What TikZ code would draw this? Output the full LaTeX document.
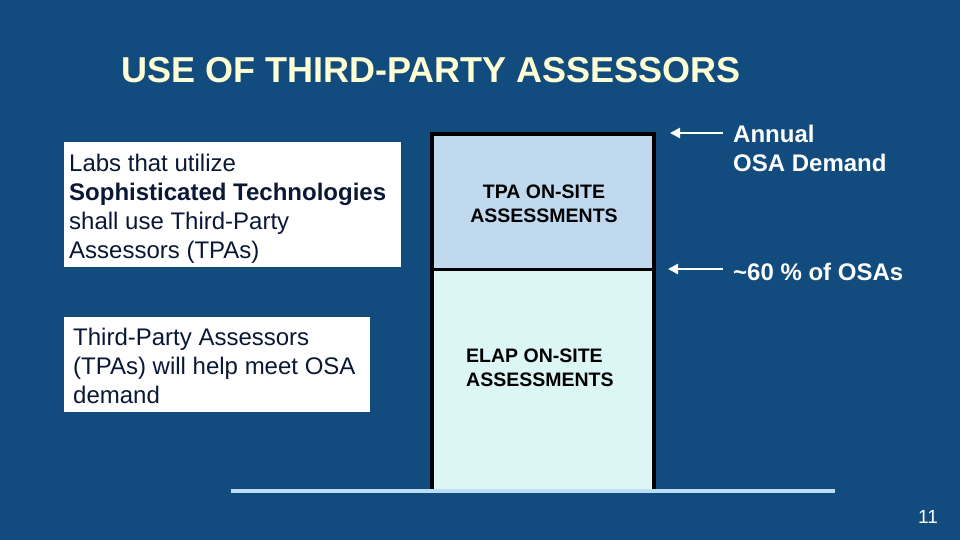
\documentclass[tikz,border=0pt]{standalone}
\usepackage{fontspec}
\setmainfont{Liberation Sans}
\usetikzlibrary{arrows.meta}
\definecolor{bg}{HTML}{124B7D}
\definecolor{titlec}{HTML}{FFFFD4}
\definecolor{navytext}{HTML}{0A1836}
\definecolor{upperfill}{HTML}{C0D9EF}
\definecolor{lowerfill}{HTML}{DCF5F5}
\definecolor{basec}{HTML}{BCDDF6}
\tikzset{
  infobox/.style={fill=white, draw=none},
  infotext/.style={anchor=north west, inner sep=0pt, align=left, text=navytext, font=\fontsize{24pt}{29pt}\selectfont},
  bartext/.style={inner sep=0pt, text=black, font=\bfseries\fontsize{19.5pt}{24pt}\selectfont},
  sidetext/.style={anchor=north west, inner sep=0pt, align=left, text=white, font=\bfseries\fontsize{24pt}{29pt}\selectfont},
  whitearrow/.style={draw=white, line width=2.5pt, -{Triangle[length=10pt,width=10pt]}},
}
\begin{document}
\begin{tikzpicture}[x=1pt,y=-1pt]
\useasboundingbox (0,0) rectangle (960,540);
\fill[bg] (0,0) rectangle (960,540);
% title
\node[anchor=north west, inner sep=0pt, text=titlec, font=\bfseries\fontsize{36pt}{40pt}\selectfont] (title) at (121,57.5) {USE OF THIRD-PARTY ASSESSORS};
% left boxes
\node[infobox, anchor=north west, minimum width=337pt, minimum height=125pt, inner sep=0pt] (box1) at (64,142) {};
\node[infotext] (box1text) at (69,153.5) {Labs that utilize\\\textbf{Sophisticated Technologies}\\shall use Third-Party\\Assessors (TPAs)};
\node[infobox, anchor=north west, minimum width=306pt, minimum height=95pt, inner sep=0pt] (box2) at (64,317) {};
\node[infotext] (box2text) at (73,327.5) {Third-Party Assessors\\(TPAs) will help meet OSA\\demand};
% bar
\node[fill=upperfill, anchor=north west, minimum width=222pt, minimum height=135pt, inner sep=0pt] (tpa) at (432,134) {};
\node[fill=lowerfill, anchor=north west, minimum width=222pt, minimum height=221pt, inner sep=0pt] (elap) at (432,269) {};
\draw[line width=4pt] (elap.south west) -- (tpa.north west) -- (tpa.north east) -- (elap.south east);
\draw[line width=3pt] (tpa.south west) -- (tpa.south east);
\draw[basec, line width=4pt] (231,491) coordinate (bl) -- (835,491) coordinate (br);
\node[bartext, align=center] (tpatext) at (544,204) {TPA ON-SITE\\ASSESSMENTS};
\node[bartext, align=left, anchor=west] (elaptext) at (466,368) {ELAP ON-SITE\\ASSESSMENTS};
% right labels
\node[sidetext] (demand) at (733,124.5) {Annual\\OSA Demand};
\node[sidetext] (sixty) at (733,262.5) {\textasciitilde 60 \%\ of OSAs};
\coordinate (a1tail) at (723,133);
\coordinate (a1tip) at (670,133);
\coordinate (a2tail) at (723,269);
\coordinate (a2tip) at (668,269);
\draw[whitearrow] (a1tail) -- (a1tip);
\draw[whitearrow] (a2tail) -- (a2tip);
% page number
\node[text=white, font=\fontsize{19pt}{22pt}\selectfont, inner sep=0pt] (pagenum) at (928,517) {11};
\end{tikzpicture}
\end{document}
